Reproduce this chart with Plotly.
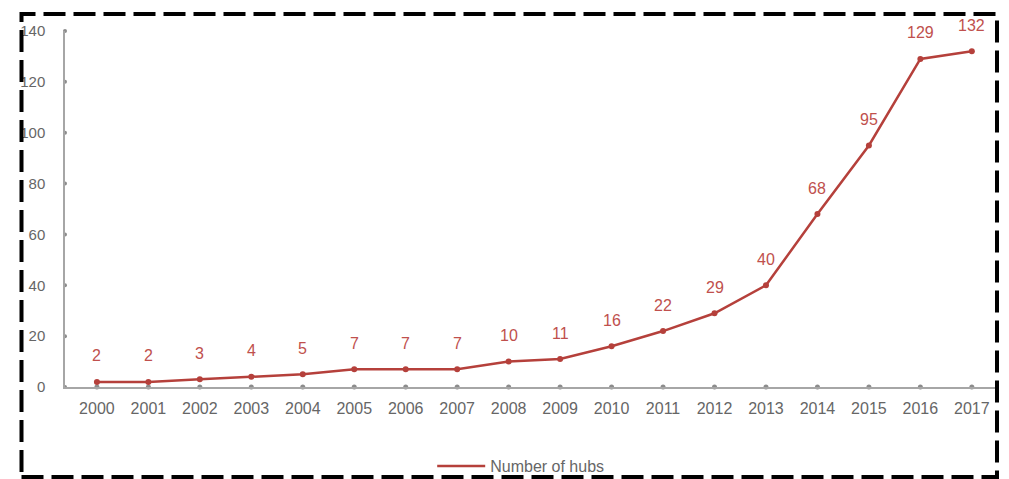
import plotly.graph_objects as go

years = [str(y) for y in range(2000, 2018)]
hubs = [2, 2, 3, 4, 5, 7, 7, 7, 10, 11, 16, 22, 29, 40, 68, 95, 129, 132]
y_ticks = [0, 20, 40, 60, 80, 100, 120, 140]

RED = "#b5403b"
LABEL_RED = "#c0504d"
GRAY = "#8c8c8c"
TXT = "#666666"

x_idx = list(range(len(years)))
XMIN, XMAX = -0.62, 17.45

fig = go.Figure()

# axis dots on x axis
fig.add_trace(go.Scatter(x=x_idx, y=[0] * len(years), mode="markers",
                         marker=dict(color=GRAY, size=5), showlegend=False,
                         hoverinfo="skip", cliponaxis=False))
# axis dots on y axis
fig.add_trace(go.Scatter(x=[XMIN] * len(y_ticks), y=y_ticks, mode="markers",
                         marker=dict(color=GRAY, size=4), showlegend=False,
                         hoverinfo="skip", cliponaxis=False))

fig.add_trace(go.Scatter(x=x_idx, y=hubs, mode="lines+markers",
                         name="Number of hubs", showlegend=False,
                         line=dict(color=RED, width=2.5),
                         marker=dict(color=RED, size=6),
                         cliponaxis=False))
# legend entry (line only)
fig.add_trace(go.Scatter(x=[None], y=[None], mode="lines", name="Number of hubs",
                         line=dict(color=RED, width=2.5)))

for i, v in zip(x_idx, hubs):
    fig.add_annotation(x=i, y=v, text=str(v), showarrow=False, yshift=26,
                       font=dict(color=LABEL_RED, size=16))

fig.add_shape(type="rect", xref="paper", yref="paper", layer="above",
              x0=(21.5 - 65) / 930, x1=(997 - 65) / 930,
              y0=(387 - 477) / 356, y1=(387 - 14) / 356,
              line=dict(color="black", width=4, dash="22px,8px"))

fig.update_layout(
    width=1009, height=479,
    margin=dict(l=65, r=14, t=31, b=92, autoexpand=False),
    paper_bgcolor="white", plot_bgcolor="white",
    font=dict(family="Liberation Sans, Arial, sans-serif", color=TXT, size=15),
    showlegend=True,
    legend=dict(orientation="h", x=0.49, xanchor="center", y=-0.222, yanchor="middle",
                bgcolor="rgba(0,0,0,0)", itemwidth=48,
                font=dict(size=16, color=TXT)),
    xaxis=dict(range=[XMIN, XMAX], tickmode="array", tickvals=x_idx, ticktext=years,
               showgrid=False, zeroline=False, showline=True, linecolor="#a6a6a6",
               linewidth=1.5, ticks="", automargin=False, ticklabelstandoff=6,
               tickfont=dict(size=16, color=TXT)),
    yaxis=dict(range=[0, 140], tickvals=y_ticks, showgrid=False, zeroline=False,
               showline=True, linecolor="#a6a6a6", linewidth=1.5, ticks="",
               automargin=False, ticklabelstandoff=15,
               tickfont=dict(size=15, color=TXT)),
)

fig.write_html("out.html")
